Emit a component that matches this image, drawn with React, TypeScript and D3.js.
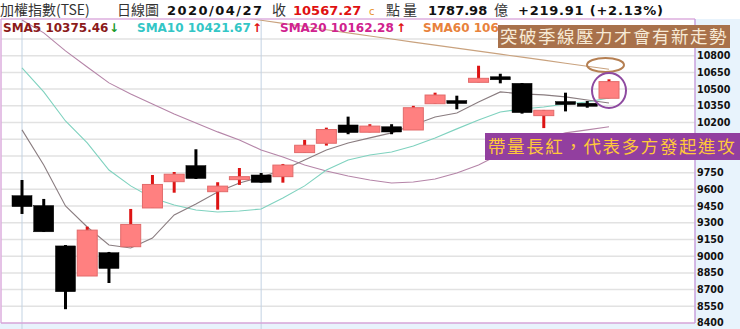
import React from 'react';
import * as d3 from 'd3';

// Trading days shown on the daily chart
const dates = ['03/17','03/18','03/19','03/20','03/23','03/24','03/25','03/26','03/27','03/30','03/31','04/01','04/06','04/07','04/08','04/09','04/10','04/13','04/14','04/15','04/16','04/17','04/20','04/21','04/22','04/23','04/24','04/27'];
const opens = [9543,9454,9092,8822,9031,9085,9433,9669,9813,9579,9693,9729,9714,9930,10014,10178,10113,10162,10133,10369,10392,10561,10605,10552,10262,10380,10372,10418];
const highs = [9684,9514,9100,9265,9038,9424,9729,9756,9960,9664,9792,9747,9828,10044,10154,10253,10185,10185,10350,10468,10441,10710,10638,10555,10313,10468,10393,10588];
const lows = [9379,9218,8524,8822,8759,9085,9433,9570,9693,9418,9640,9660,9660,9930,9993,10095,10113,10095,10133,10369,10319,10561,10552,10280,10150,10300,10333,10418];
const closes = [9445,9219,8681,9234,8890,9285,9644,9736,9698,9629,9708,9663,9818,9996,10137,10110,10168,10115,10333,10447,10376,10597,10590,10289,10310,10370,10347.36,10567.27];

// Moving averages
const sma5 = [10134,9819,9451,9262,9101,9074,9163,9370,9469,9577,9657,9711,9774,9864,9954,10017,10062,10107,10178,10250,10286,10385,10475,10457,10448,10430,10403,10375.46];
const sma10 = [10690,10475,10214,10017,9774,9631,9523,9460,9415,9397,9406,9424,9523,9631,9774,9864,9909,9936,9990,10062,10143,10223,10295,10322,10340,10367,10385,10421.67];
const sma20 = [11120,11005,10843,10699,10556,10457,10367,10277,10196,10116,10044,9954,9891,9819,9765,9720,9684,9657,9666,9693,9747,9819,9918,9990,10053,10107,10134,10162.28];
const sma60 = [11450,11420,11392,11362,11333,11303,11273,11244,11215,11186,11150,11118,11090,11062,11033,11005,10977,10950,10922,10895,10868,10841,10814,10787,10760,10733,10706,10678.42];

// Right-hand price axis (grid at every step; labels under the callouts are covered)
const priceTicks = [8400,8550,8700,8850,9000,9150,9300,9450,9600,9750,9900,10050,10200,10350,10500,10650,10800,10950];
const coveredTicks = [9900, 10050, 10950];
// Month boundary markers
const monthMarks = ['03/17', '04/01'];

const W = 740;
const H = 329;
const plot = { left: 1, right: 695, top: 19, bottom: 323 };
const topNote = { x: 498, y: 25, w: 232, h: 23 };
const sideNote = { x: 485, y: 133, w: 255, h: 27 };

const cjk = '"Noto Sans CJK TC", "Noto Sans CJK SC", sans-serif';
const num = '"DejaVu Sans", Verdana, sans-serif';

const fmt = d3.format('.2f');

export default function App() {
  const x = d3.scaleLinear().domain([0, dates.length - 1]).range([22, 609]);
  const y = d3.scaleLinear().domain([8400, 11100]).range([plot.bottom, 22.3]);
  const bodyW = 20;

  const line = d3
    .line<number>()
    .x((_, i) => x(i))
    .y((d) => y(d));

  const maLines = [
    { data: sma60, color: '#c9a27e' },
    { data: sma20, color: '#b585a8' },
    { data: sma10, color: '#7fd2bf' },
    { data: sma5, color: '#8a7d80' },
  ];

  const last = closes.length - 1;
  const lastClose = closes[last];
  const prevClose = closes[last - 1];
  const change = lastClose - prevClose;
  const pct = (change / prevClose) * 100;

  return (
    <svg
      width={W}
      height={H}
      style={{ position: 'absolute', left: 0, top: 0, display: 'block', background: '#fff' }}
    >
      <defs>
        <clipPath id="plotClip">
          <rect x={plot.left} y={plot.top} width={plot.right - plot.left} height={plot.bottom - plot.top} />
        </clipPath>
        {/* the legend row runs in under the top callout */}
        <clipPath id="legendClip">
          <rect x={0} y={plot.top} width={topNote.x} height={16} />
        </clipPath>
      </defs>

      {/* axis backgrounds */}
      <rect x={plot.right} y={plot.top} width={W - plot.right} height={H - plot.top} fill="#e8f3fc" />
      <rect x={0} y={plot.bottom} width={W} height={H - plot.bottom} fill="#e8f3fc" />

      {/* horizontal grid */}
      {priceTicks.slice(1).map((t) => (
        <line key={t} x1={plot.left} x2={plot.right} y1={y(t)} y2={y(t)} stroke="#e2e2e2" strokeWidth={1.5} />
      ))}

      {/* month markers */}
      {monthMarks.map((d) => {
        const xi = x(dates.indexOf(d));
        return <line key={d} x1={xi} x2={xi} y1={plot.top} y2={H} stroke="#c3d3e3" strokeWidth={1} />;
      })}

      {/* moving averages */}
      <g clipPath="url(#plotClip)">
        {maLines.map((m, i) => (
          <path key={i} d={line(m.data) || ''} fill="none" stroke={m.color} strokeWidth={1.1} />
        ))}
      </g>

      {/* candlesticks */}
      {dates.map((d, i) => {
        const o = opens[i];
        const c = closes[i];
        const up = c >= o;
        const cx = x(i);
        const top = y(Math.max(o, c));
        const bot = y(Math.min(o, c));
        let h = bot - top;
        let by = top;
        if (h < 3) {
          by = (top + bot) / 2 - 1.5;
          h = 3;
        }
        const wickColor = up ? '#dd1414' : '#000';
        return (
          <g key={d}>
            <line x1={cx} x2={cx} y1={y(highs[i])} y2={y(lows[i])} stroke={wickColor} strokeWidth={3} />
            <rect
              x={cx - bodyW / 2}
              y={by}
              width={bodyW}
              height={h}
              fill={up ? '#ff8080' : '#000'}
              stroke={up ? '#e26a6a' : '#000'}
              strokeWidth={up ? 1 : 0.5}
            />
          </g>
        );
      })}

      {/* plot frame */}
      <line x1={plot.left} x2={plot.right} y1={plot.top} y2={plot.top} stroke="#dcaede" strokeWidth={1.5} />
      <line x1={plot.left} x2={plot.left} y1={plot.top} y2={plot.bottom} stroke="#dcaede" strokeWidth={1.5} />
      <line x1={plot.left} x2={plot.right} y1={plot.bottom} y2={plot.bottom} stroke="#d6a4d8" strokeWidth={1.5} />
      <line x1={plot.right} x2={plot.right} y1={plot.top} y2={plot.bottom} stroke="#c9a0dc" strokeWidth={1.5} />

      {/* price axis labels */}
      {priceTicks
        .filter((t) => !coveredTicks.includes(t))
        .map((t) => (
          <text
            key={t}
            x={697}
            y={y(t)}
            dy="0.36em"
            fontFamily={num}
            fontWeight="bold"
            fontSize={9.6}
            fill="#111"
          >
            {t}
          </text>
        ))}

      {/* header */}
      <g fontSize={14} fill="#333">
        <text x={0} y={15} fontFamily={cjk}>加權指數(TSE)</text>
        <text x={117} y={15} fontFamily={cjk}>日線圖</text>
        <text x={167} y={15} fontFamily={num} fontWeight="bold" fontSize={13} fill="#111" textLength={95} lengthAdjust="spacing">2020/04/27</text>
        <text x={272} y={15} fontFamily={cjk}>收</text>
        <text x={293} y={15} fontFamily={num} fontWeight="bold" fontSize={13} fill="#e01010">{fmt(lastClose)}</text>
        <text x={369} y={15} fontFamily={num} fontSize={10} fill="#e8902c">c</text>
        <text x={386} y={15} fontFamily={cjk}>點</text>
        <text x={403} y={15} fontFamily={cjk}>量</text>
        <text x={428} y={15} fontFamily={num} fontWeight="bold" fontSize={13} fill="#111">1787.98</text>
        <text x={494} y={15} fontFamily={cjk}>億</text>
        <text x={518} y={15} fontFamily={num} fontWeight="bold" fontSize={13} fill="#111" textLength={145} lengthAdjust="spacing">
          {`+${fmt(change)} (+${fmt(pct)}%)`}
        </text>
      </g>

      {/* moving average legend */}
      <g fontFamily={num} fontWeight="bold" fontSize={12} clipPath="url(#legendClip)">
        <text x={3} y={31.5} fill="#8b1a1a">{`SMA5 ${fmt(sma5[last])}`}</text>
        <text x={109} y={31.5} fill="#1a9a2a">↓</text>
        <text x={137} y={31.5} fill="#33c6c6">{`SMA10 ${fmt(sma10[last])}`}</text>
        <text x={252} y={31.5} fill="#e01010">↑</text>
        <text x={280} y={31.5} fill="#d0228e">{`SMA20 ${fmt(sma20[last])}`}</text>
        <text x={396} y={31.5} fill="#e01010">↑</text>
        <text x={423} y={31.5} fill="#e8823c">{`SMA60 ${fmt(sma60[last])}`}</text>
      </g>

      {/* callouts */}
      <ellipse cx={605.5} cy={65} rx={18.5} ry={7} fill="none" stroke="#b57f52" strokeWidth={2} />
      <ellipse cx={x(last)} cy={90.5} rx={17} ry={17.5} fill="none" stroke="#8e4aa0" strokeWidth={2} />

      <rect x={topNote.x} y={topNote.y} width={topNote.w} height={topNote.h} fill="#a8714b" />
      <text x={topNote.x + 2} y={topNote.y + 18} fontFamily={cjk} fontSize={17.5} letterSpacing={1.5} fill="#f7ead6">
        突破季線壓力才會有新走勢
      </text>

      <rect x={sideNote.x} y={sideNote.y} width={sideNote.w} height={sideNote.h} fill="#923f9f" />
      <text x={sideNote.x + 3} y={sideNote.y + 20} fontFamily={cjk} fontSize={17.5} letterSpacing={1.6} fill="#ffc83a">
        帶量長紅，代表多方發起進攻
      </text>
    </svg>
  );
}
